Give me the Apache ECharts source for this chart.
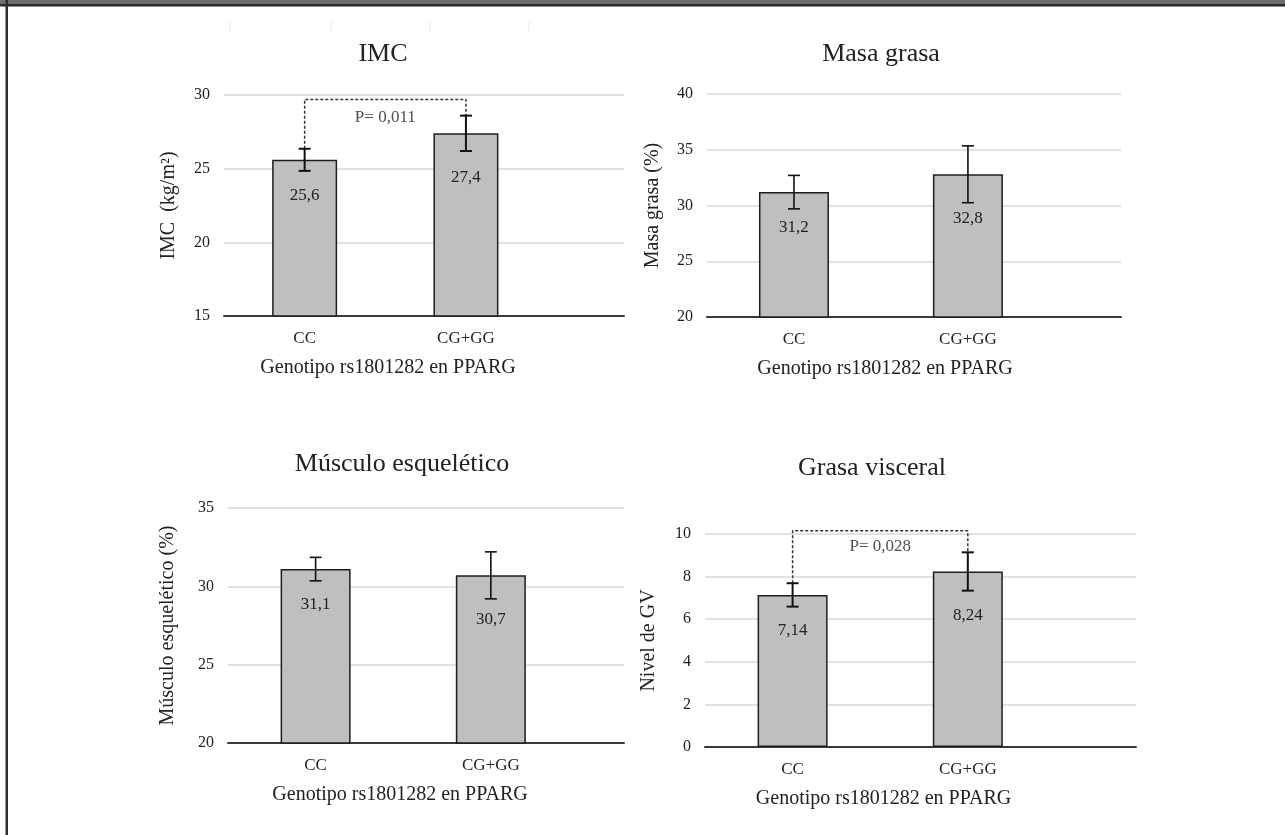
<!DOCTYPE html>
<html lang="es">
<head>
	<meta charset="UTF-8">
	<title>Genotipo rs1801282 en PPARG</title>
	<style>
	body, div {
		margin: 0;
		padding: 0;
	}
	#echart {
		width: 1285px;
		height: 835px;
		background: #fff;
	}
	</style>
</head>
<body>
	<div id="echart"></div>

	<script src="https://cdn.jsdelivr.net/npm/echarts@6/dist/echarts.min.js"></script>

	<script>
	// datos
	// ---------------------------------------------------------------
	var categories = ['CC', 'CG+GG'];
	var xAxisName = 'Genotipo rs1801282 en PPARG';

	var imcMeans = [25.6, 27.4];
	var imcErr = [0.75, 1.2];
	var imcAxis = [15, 30, 5];          // min, max, intervalo
	var imcP = 'P= 0,011';
	var imcBracket = 29.7;

	var grasaMeans = [31.2, 32.8];
	var grasaErr = [1.5, 2.55];
	var grasaAxis = [20, 40, 5];

	var musculoMeans = [31.1, 30.7];
	var musculoErr = [0.75, 1.5];
	var musculoAxis = [20, 35, 5];

	var visceralMeans = [7.14, 8.24];
	var visceralErr = [0.55, 0.9];
	var visceralAxis = [0, 10, 2];
	var visceralP = 'P= 0,028';
	var visceralBracket = 10.15;

	var FONT = '"Liberation Serif", "DejaVu Serif", serif';
	var TXT = '#222';

	// paneles (solo posicion / estilo)
	var panels = [
		{ title: 'IMC', tx: 383, ty: 41, yName: 'IMC  (kg/m\u00b2)', means: imcMeans, errs: imcErr, axis: imcAxis,
		  grid: { left: 224, top: 95, width: 400, height: 221 }, xMax: 2.48, barWidth: 65, nameGap: 45, nameShift: 72,
		  p: imcP, bracket: imcBracket, pY: 28.5, errW: 2 },
		{ title: 'Masa grasa', tx: 881, ty: 41, yName: 'Masa grasa (%)', means: grasaMeans, errs: grasaErr, axis: grasaAxis,
		  grid: { left: 707, top: 94, width: 414, height: 223 }, xMax: 2.38, barWidth: 70, nameGap: 44, nameShift: 58,
		  errW: 1.6 },
		{ title: 'M\u00fasculo esquel\u00e9tico', tx: 402, ty: 451, yName: 'M\u00fasculo esquel\u00e9tico (%)', means: musculoMeans, errs: musculoErr, axis: musculoAxis,
		  grid: { left: 228, top: 508, width: 396, height: 235 }, xMax: 2.26, barWidth: 70, nameGap: 50, nameShift: 52,
		  errW: 1.6 },
		{ title: 'Grasa visceral', tx: 872, ty: 455, yName: 'Nivel de GV', means: visceralMeans, errs: visceralErr, axis: visceralAxis,
		  grid: { left: 705, top: 534, width: 431, height: 213 }, xMax: 2.46, barWidth: 70, nameGap: 46, nameShift: 74,
		  p: visceralP, bracket: visceralBracket, pY: 9.4, errW: 2 }
	];

	var labelDist = [27, 36];

	function fmt(v) {
		return String(v).replace('.', ',');
	}

	function errorBarItem(params, api) {
		var x = api.value(0);
		var top = api.coord([x, api.value(2)]);
		var bot = api.coord([x, api.value(1)]);
		var st = { stroke: '#111', lineWidth: api.value(3) };
		return {
			type: 'group',
			children: [
				{ type: 'line', shape: { x1: top[0], y1: top[1], x2: bot[0], y2: bot[1] }, style: st },
				{ type: 'line', shape: { x1: top[0] - 6, y1: top[1], x2: top[0] + 6, y2: top[1] }, style: st },
				{ type: 'line', shape: { x1: bot[0] - 6, y1: bot[1], x2: bot[0] + 6, y2: bot[1] }, style: st }
			]
		};
	}

	var option = {
		backgroundColor: '#fff',
		animation: false,
		title: [],
		grid: [],
		xAxis: [],
		yAxis: [],
		series: [],
		graphic: [
			{ type: 'rect', shape: { x: 0, y: 0, width: 1285, height: 4 }, style: { fill: '#6e6e6e' } },
			{ type: 'rect', shape: { x: 0, y: 4, width: 1285, height: 2.5 }, style: { fill: '#2b2b2b' } },
			{ type: 'rect', shape: { x: 5.5, y: 0, width: 2.5, height: 835 }, style: { fill: '#2b2b2b' } },
			{ type: 'line', shape: { x1: 230, y1: 22, x2: 230, y2: 32 }, style: { stroke: '#e8e8e8', lineWidth: 1 } },
			{ type: 'line', shape: { x1: 331, y1: 22, x2: 331, y2: 32 }, style: { stroke: '#e8e8e8', lineWidth: 1 } },
			{ type: 'line', shape: { x1: 430, y1: 22, x2: 430, y2: 32 }, style: { stroke: '#e8e8e8', lineWidth: 1 } },
			{ type: 'line', shape: { x1: 529, y1: 22, x2: 529, y2: 32 }, style: { stroke: '#e8e8e8', lineWidth: 1 } }
		]
	};

	panels.forEach(function (p, i) {
		option.title.push({
			text: p.title,
			left: p.tx,
			top: p.ty,
			textAlign: 'center',
			padding: 0,
			textStyle: { fontFamily: FONT, fontSize: 26, fontWeight: 'normal', color: TXT }
		});

		option.grid.push(p.grid);

		option.xAxis.push({
			type: 'value',
			gridIndex: i,
			min: 0,
			max: p.xMax,
			interval: 0.5,
			name: xAxisName,
			nameLocation: 'middle',
			nameGap: 42,
			nameTextStyle: { fontFamily: FONT, fontSize: 20, color: TXT, padding: [0, p.nameShift, 0, 0] },
			axisLine: { onZero: false, lineStyle: { color: '#3a3a3a', width: 2 } },
			axisTick: { show: false },
			splitLine: { show: false },
			axisLabel: {
				margin: 14,
				fontFamily: FONT,
				fontSize: 17,
				color: TXT,
				showMaxLabel: false,
				formatter: function (v) {
					var k = v - 0.5;
					return (Math.abs(k - Math.round(k)) < 1e-6 && categories[Math.round(k)]) || '';
				}
			}
		});

		option.yAxis.push({
			type: 'value',
			gridIndex: i,
			min: p.axis[0],
			max: p.axis[1],
			interval: p.axis[2],
			name: p.yName,
			nameLocation: 'middle',
			nameGap: p.nameGap,
			nameTextStyle: { fontFamily: FONT, fontSize: 20, color: TXT },
			axisLine: { show: false },
			axisTick: { show: false },
			splitLine: { lineStyle: { color: '#d9d9d9', width: 1.5 } },
			axisLabel: { margin: 14, fontFamily: FONT, fontSize: 16, color: TXT }
		});

		// barras
		option.series.push({
			type: 'bar',
			xAxisIndex: i,
			yAxisIndex: i,
			barWidth: p.barWidth,
			itemStyle: { color: '#bfbfbf', borderColor: '#1e1e1e', borderWidth: 1.5 },
			label: {
				show: true,
				position: 'insideTop',
				fontFamily: FONT,
				fontSize: 17,
				color: TXT,
				formatter: function (d) { return fmt(d.value[1]); }
			},
			data: p.means.map(function (m, k) {
				return { value: [k + 0.5, m], label: { distance: labelDist[k] } };
			}),
			z: 2
		});

		// barras de error
		option.series.push({
			type: 'custom',
			xAxisIndex: i,
			yAxisIndex: i,
			renderItem: errorBarItem,
			encode: { x: 0, y: [1, 2] },
			data: p.means.map(function (m, k) {
				return [k + 0.5, m - p.errs[k], m + p.errs[k], p.errW];
			}),
			z: 4
		});

		// corchete de significacion
		if (p.p) {
			option.series.push({
				type: 'line',
				xAxisIndex: i,
				yAxisIndex: i,
				symbol: 'none',
				clip: false,
				lineStyle: { color: '#333', width: 1.5, type: [3, 2] },
				data: [
					[0.5, p.means[0] + p.errs[0]],
					[0.5, p.bracket],
					[1.5, p.bracket],
					[1.5, p.means[1] + p.errs[1]]
				],
				z: 3
			});
			option.series.push({
				type: 'scatter',
				xAxisIndex: i,
				yAxisIndex: i,
				symbolSize: 0,
				label: {
					show: true,
					position: 'inside',
					fontFamily: FONT,
					fontSize: 17,
					color: TXT,
					formatter: p.p
				},
				data: [[1.0, p.pY]],
				z: 5
			});
		}
	});

	var myEchart = echarts.init(document.getElementById('echart'));
	myEchart.setOption(option);
	</script>
</body>
</html>
